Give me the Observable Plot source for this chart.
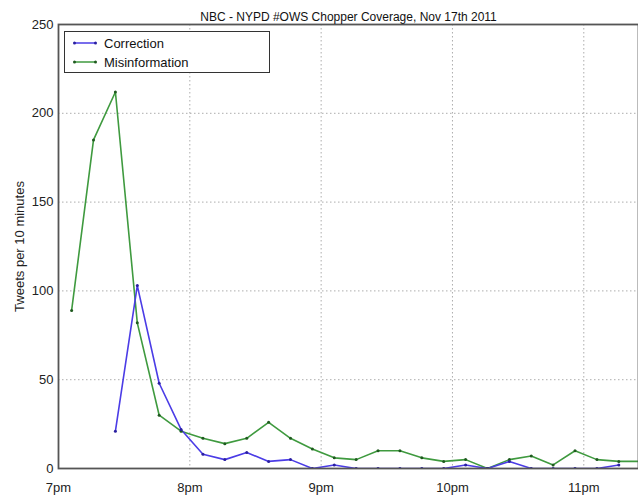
<!DOCTYPE html>
<html>
<head>
<meta charset="utf-8">
<script src="https://cdn.jsdelivr.net/npm/d3@7"></script>
<script src="https://cdn.jsdelivr.net/npm/@observablehq/plot@0.6"></script>
<style>
  body { margin: 0; background: #fff; font-family: "Liberation Sans", "DejaVu Sans", sans-serif; }
  #wrap { position: relative; width: 638px; height: 497px; }
  #legend { position: absolute; left: 64px; top: 31px; width: 204px; height: 40px; border: 1.5px solid #333; background: #fff; font-size: 13px; color: #111; }
  .row { position: absolute; left: 8px; height: 16px; display: flex; align-items: center; }
  .row svg { margin-right: 7px; }
</style>
</head>
<body>
<div id="wrap"><div id="chart"></div>
<div id="legend">
  <div class="row" style="top:3px"><svg width="24" height="6"><line x1="1" y1="3" x2="23" y2="3" stroke="#4b3ce6" stroke-width="1.5"/><circle cx="1.5" cy="3" r="1.5" fill="#2a1fa0"/><circle cx="22.5" cy="3" r="1.5" fill="#2a1fa0"/></svg>Correction</div>
  <div class="row" style="top:22px"><svg width="24" height="6"><line x1="1" y1="3" x2="23" y2="3" stroke="#3f9a3f" stroke-width="1.5"/><circle cx="1.5" cy="3" r="1.5" fill="#1f5a1f"/><circle cx="22.5" cy="3" r="1.5" fill="#1f5a1f"/></svg>Misinformation</div>
</div>
</div>
<script>
const title = "NBC - NYPD #OWS Chopper Coverage, Nov 17th 2011";
const yLabel = "Tweets per 10 minutes";
// samples every 10 minutes starting 7:06pm
const startTime = new Date(2011, 10, 17, 19, 6);
const misinformation = [89,185,212,82,30,21,17,14,17,26,17,11,6,5,10,10,6,4,5,0,5,7,2,10,5,4,4];
const correctionStartIndex = 2;
const correction = [21,103,48,22,8,5,9,4,5,0,2,0,0,0,0,0,2,0,4,0,0,0,0,2];
const yTicks = [0,50,100,150,200,250];

const t = i => new Date(+startTime + i*10*60000);
const rows = [];
misinformation.forEach((v,i)=>rows.push({series:"Misinformation", time:t(i), value:v}));
correction.forEach((v,i)=>rows.push({series:"Correction", time:t(i+correctionStartIndex), value:v}));

const x0 = new Date(2011,10,17,19,0);
const x1 = new Date(+x0 + 265*60000);
const fmt = d => `${d.getHours()%12||12}${d.getHours()<12?"am":"pm"}`;
const colors = {Correction:"#4b3ce6", Misinformation:"#3f9a3f"};
const dots = {Correction:"#2a1fa0", Misinformation:"#1f5a1f"};

const chart = Plot.plot({
  width: 638, height: 497,
  marginLeft: 58, marginRight: 0, marginTop: 24, marginBottom: 29,
  style: {fontFamily: "Liberation Sans, DejaVu Sans, sans-serif", fontSize: "13px", color: "#222"},
  x: {type: "time", domain: [x0, x1], ticks: d3.timeHour.every(1), tickFormat: fmt, tickSize: 0, tickPadding: 14, label: null},
  y: {domain: [0, 250], ticks: yTicks, tickSize: 0, tickPadding: 5, label: yLabel, labelAnchor: "center", labelArrow: "none", labelOffset: 44},
  marks: [
    Plot.gridX({ticks: d3.timeHour.every(1), stroke: "#999", strokeOpacity: 0.8, strokeDasharray: "1.5,2.5"}),
    Plot.gridY(yTicks, {stroke: "#999", strokeOpacity: 0.8, strokeDasharray: "1.5,2.5"}),
    Plot.lineY(rows, {x: "time", y: "value", z: "series", stroke: d => colors[d.series], strokeWidth: 1.6, clip: true}),
    Plot.dot(rows, {x: "time", y: "value", r: 1.5, fill: d => dots[d.series], clip: true}),
    Plot.frame({stroke: "#555", strokeWidth: 1.8}),
    Plot.text([title], {frameAnchor: "top", dy: -12, fontSize: 12, fill: "#111"})
  ]
});
document.getElementById("chart").appendChild(chart);
</script>
</body>
</html>
